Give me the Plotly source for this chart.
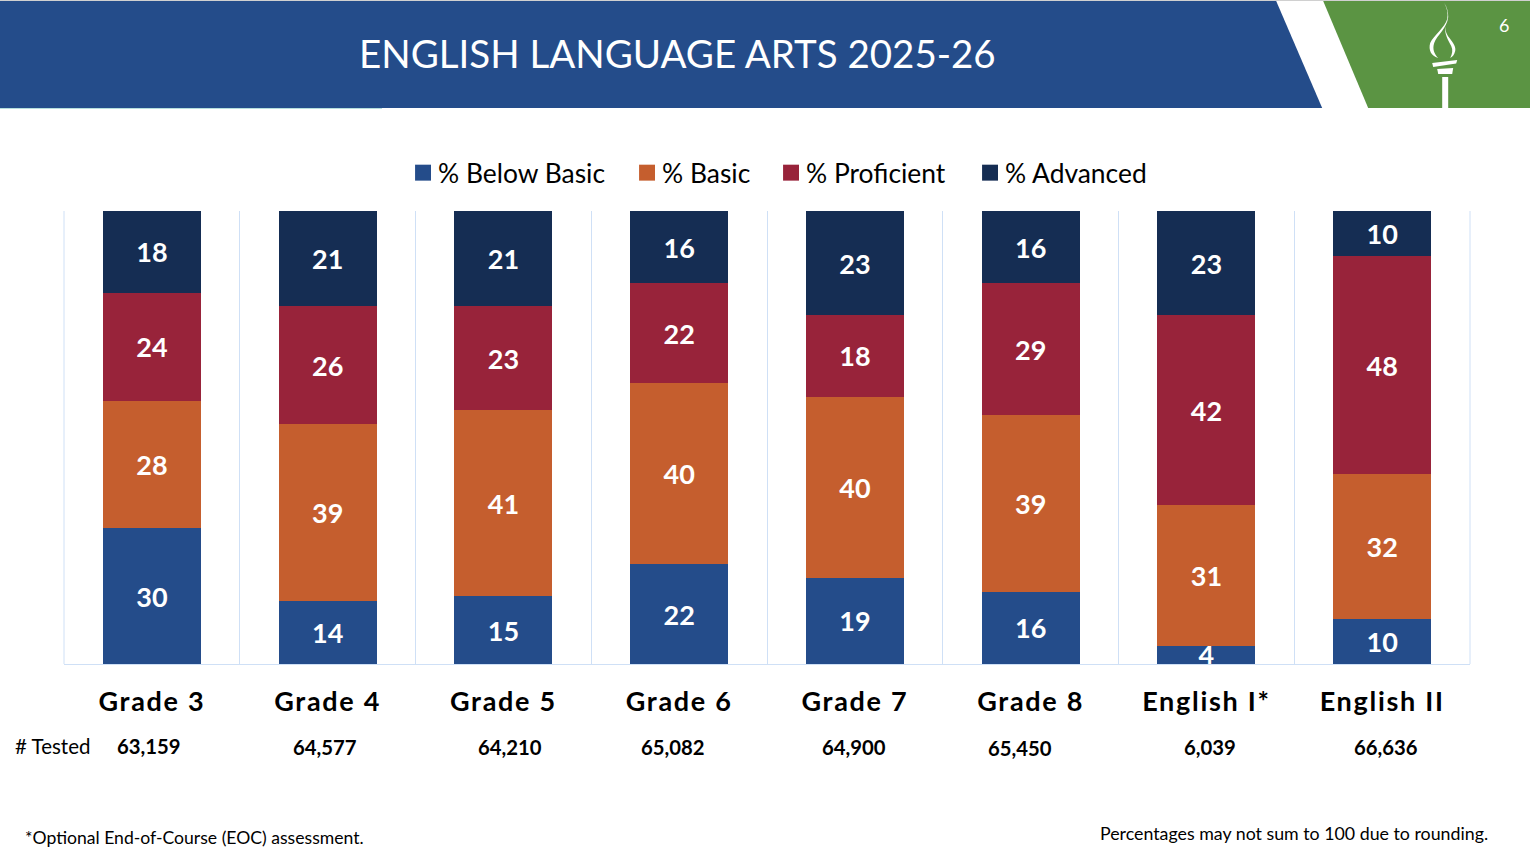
import plotly.graph_objects as go

categories = ["Grade 3", "Grade 4", "Grade 5", "Grade 6", "Grade 7", "Grade 8", "English I*", "English II"]
below_basic = [30, 14, 15, 22, 19, 16, 4, 10]
basic = [28, 39, 41, 40, 40, 39, 31, 32]
proficient = [24, 26, 23, 22, 18, 29, 42, 48]
advanced = [18, 21, 21, 16, 23, 16, 23, 10]
tested = ["63,159", "64,577", "64,210", "65,082", "64,900", "65,450", "6,039", "66,636"]
tested_shift = [-3, -3, 7, -6, -1, -11, 4, 4]
tested_yshift = [1, 0, 0, 0, 0, -1, 0, 0]
legend_widths = [179, 99, 154, 150]

BLUE, ORANGE, RED, NAVY, GREEN = "#244C8A", "#C55E2E", "#98233A", "#152D53", "#5B9443"
GRID = "#CFE0F6"
FONT = "Lato"
W, H = 1530, 858
L, R, T, B = 64, 1469.8, 211, 664

def px(x):
    return (x - L) / (R - L)

def py(y):
    return (B - y) / (B - T)

def path(points):
    return "M" + " L".join(f"{px(x)},{py(y)}" for x, y in points) + " Z"

def curve(s):
    out = []
    for tok in s.split():
        if tok[0].isalpha():
            out.append(tok)
        else:
            x, y = tok.split(",")
            out.append(f"{px(float(x))},{py(float(y))}")
    return " ".join(out)

fig = go.Figure()
for name, vals, col, lw in [("% Below Basic", below_basic, BLUE, legend_widths[0]), ("% Basic", basic, ORANGE, legend_widths[1]),
                            ("% Proficient", proficient, RED, legend_widths[2]), ("% Advanced", advanced, NAVY, legend_widths[3])]:
    fig.add_bar(name=name, x=categories, y=vals, marker_color=col, marker_line_width=0, legendwidth=lw,
                text=vals, textposition="inside", textangle=0, insidetextanchor="middle",
                constraintext="none", cliponaxis=False,
                textfont=dict(family=FONT, size=27, color="white", weight="bold"))

def poly(points, color):
    return dict(type="path", xref="paper", yref="paper", path=path(points), fillcolor=color,
                line_width=0, layer="above")

def cpoly(s, color):
    return dict(type="path", xref="paper", yref="paper", path=curve(s), fillcolor=color,
                line_width=0, layer="above")

def vline(x):
    return dict(type="line", xref="paper", yref="paper", x0=px(x), x1=px(x), y0=0, y1=1,
                line=dict(color=GRID, width=1), layer="below")

shapes = [
    vline(L), vline(R),
    poly([(0, 1), (W, 1), (W, 0), (0, 0)], "#D0D0D0"),
    poly([(0, 107.5), (382, 107.5), (382, 109), (0, 109)], "#B5DEDD"),
    poly([(0, 1), (1276, 1), (1322, 108), (0, 108)], BLUE),
    poly([(1323, 1), (W, 1), (W, 108), (1368, 108)], GREEN),
    poly([(1442, 77), (1448, 77), (1448, 108), (1442, 108)], "white"),
    poly([(1437, 69), (1453, 68), (1452, 74), (1438, 74)], "white"),
    poly([(1432, 63), (1457, 60), (1456, 63.5), (1433, 67)], "white"),
    cpoly("M 1444,3 C 1447,8 1448,14 1447,19 C 1445,27 1433,36 1430,43 C 1428,50 1431,56 1438,58 "
          "C 1434,54 1432,49 1434,43 C 1437,35 1447,28 1448,17 C 1448,12 1447,7 1444,3 Z", "white"),
    cpoly("M 1445,26 C 1445,32 1447,35 1450,39 C 1453,43 1456,47 1455,51 C 1454,55 1452,57 1450,58 "
          "C 1452,54 1453,50 1451,46 C 1448,40 1444,34 1445,26 Z", "white"),
]

annotations = [
    dict(text="ENGLISH LANGUAGE ARTS 2025-26", x=px(677.5), y=py(53), font=dict(size=38.5, color="white")),
    dict(text="6", x=px(1503.5), y=py(25), font=dict(size=18, color="white")),
    dict(text="# Tested", x=px(52.5), y=py(746), font=dict(size=20.5, color="black")),
    dict(text="*Optional End-of-Course (EOC) assessment.", x=px(194.5), y=py(837), font=dict(size=17.6, color="black")),
    dict(text="Percentages may not sum to 100 due to rounding.", x=px(1294), y=py(833), font=dict(size=17.8, color="black")),
]
annotations = [dict(a, xref="paper", yref="paper", showarrow=False, xanchor="center", yanchor="middle") for a in annotations]
for c, t, dx, dy in zip(categories, tested, tested_shift, tested_yshift):
    annotations.append(dict(text=f"<b>{t}</b>", x=c, xref="x", y=py(747), yref="paper", xshift=dx, yshift=dy,
                            showarrow=False, xanchor="center", yanchor="middle",
                            font=dict(size=20.3, color="black")))

fig.update_layout(
    width=W, height=H, autosize=False, barmode="stack", bargap=0.442,
    margin=dict(l=L, r=W - R, t=T, b=H - B),
    paper_bgcolor="white", plot_bgcolor="white",
    font=dict(family=FONT),
    showlegend=True,
    legend=dict(orientation="h", traceorder="normal", x=px(398), xanchor="left", y=py(173), yanchor="middle",
                font=dict(size=26.4, color="black"), bgcolor="rgba(0,0,0,0)"),
    shapes=shapes, annotations=annotations,
    xaxis=dict(type="category", tickson="boundaries", ticks="", showgrid=True, gridcolor=GRID, gridwidth=1,
               showline=True, linecolor=GRID, linewidth=1, zeroline=False,
               ticklabelstandoff=14,
               tickfont=dict(family=FONT, size=27, color="black", weight="bold")),
    yaxis=dict(range=[0, 100], showgrid=False, zeroline=False, showticklabels=False, ticks="", showline=False),
)

post = """
document.body.style.margin = '0';
document.querySelectorAll('.xtick text').forEach(function (t) { t.style.letterSpacing = '1.7px'; });
document.querySelectorAll('.legendpoints .legendbar path, .legendpoints path').forEach(function (p) {
  p.setAttribute('transform', 'translate(25,0) scale(1.33)');
});
"""
fig.write_html("out.html", post_script=post, config=dict(displayModeBar=False))
